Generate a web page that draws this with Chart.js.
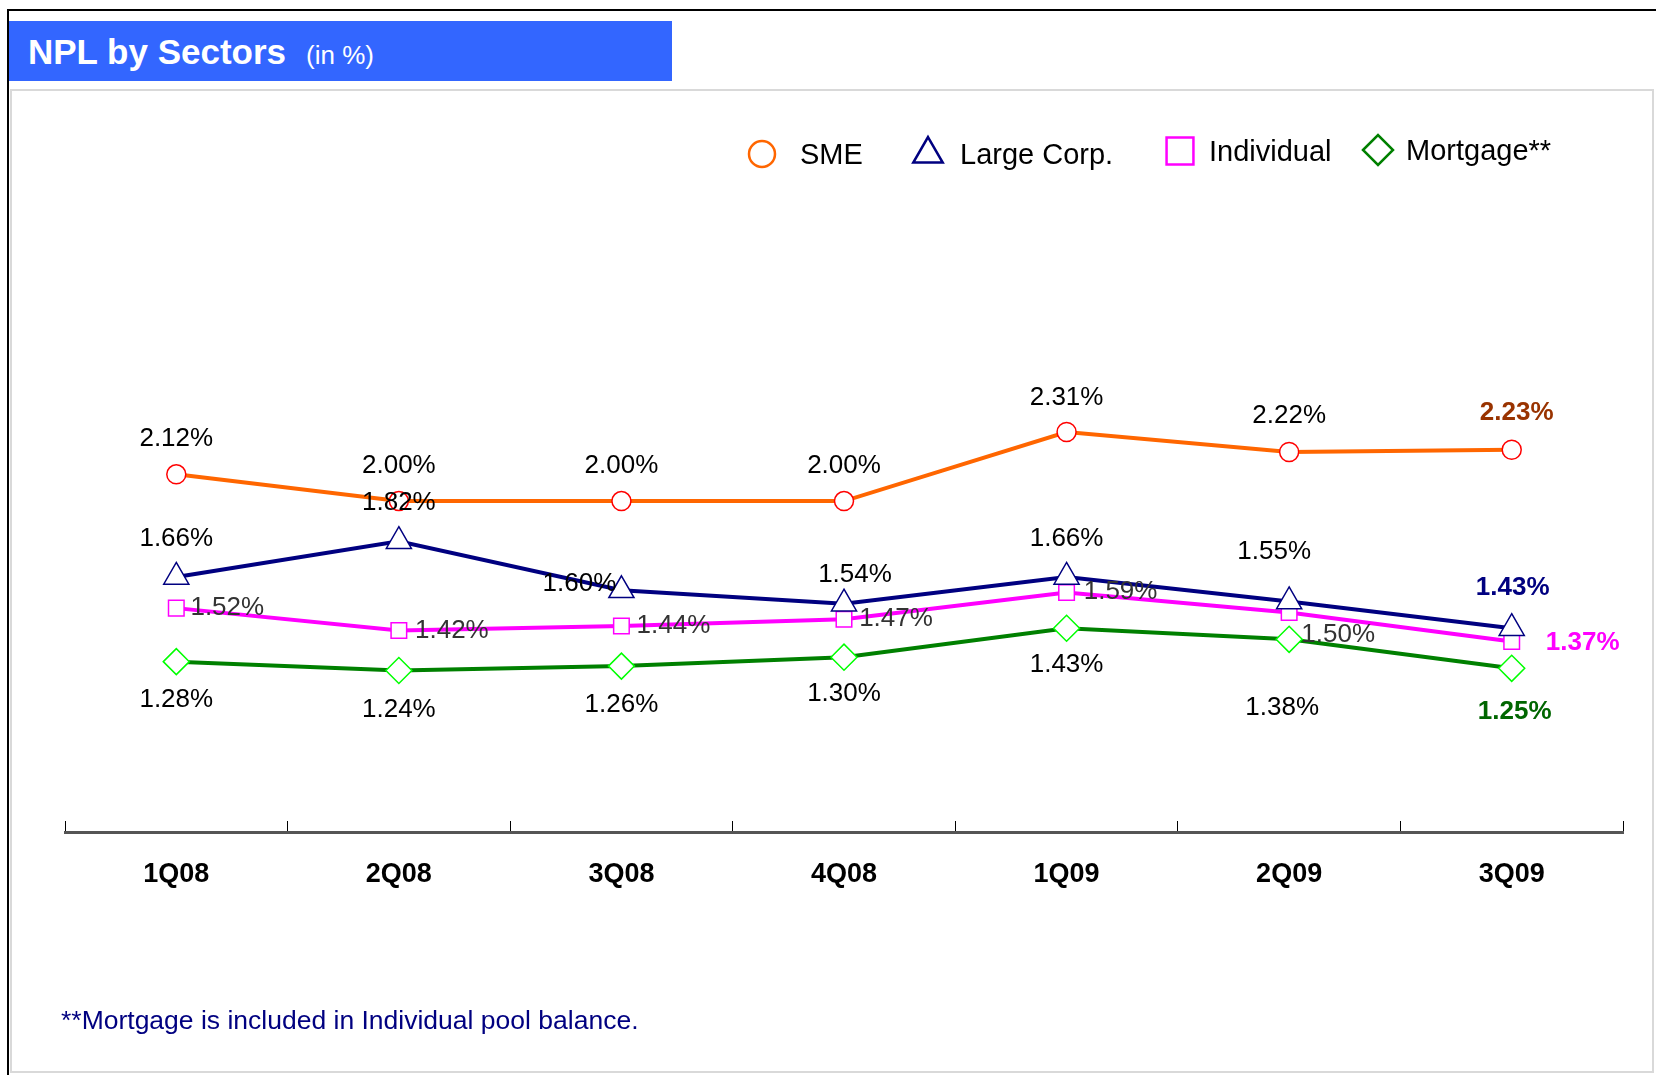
<!DOCTYPE html>
<html><head><meta charset="utf-8">
<script src="https://cdn.jsdelivr.net/npm/chart.js@4.4.0/dist/chart.umd.min.js"></script>
<style>
html,body{margin:0;padding:0;background:#fff;width:1656px;height:1075px;overflow:hidden;font-family:'Liberation Sans',Arial,sans-serif;}
#frameTop{position:absolute;left:7px;top:9px;width:1649px;height:2px;background:#000;}
#frameLeft{position:absolute;left:7px;top:9px;width:2px;height:1066px;background:#000;}
#box{position:absolute;left:10px;top:89px;width:1640px;height:980px;border:2px solid #d9d9d9;}
#titleBar{position:absolute;left:9px;top:21px;width:663px;height:60px;background:#3366FF;color:#fff;}
#titleText{position:absolute;left:19px;top:11px;white-space:nowrap;line-height:40px;}
#titleText .main{font-weight:bold;font-size:35px;}
#titleText .sub{font-size:26px;margin-left:20px;}
#note{position:absolute;left:61px;top:1004px;font-size:26.5px;line-height:32px;color:#000080;white-space:nowrap;}
#c{position:absolute;left:0;top:0;}
</style>
</head><body>
<div id="frameTop"></div>
<div id="frameLeft"></div>
<div id="box"></div>
<div id="titleBar"><div id="titleText"><span class="main">NPL by Sectors</span><span class="sub">(in %)</span></div></div>
<canvas id="c" width="1656" height="1075"></canvas>
<div id="note">**Mortgage is included in Individual pool balance.</div>
<script>
// ---- data ----
const categories = ['1Q08','2Q08','3Q08','4Q08','1Q09','2Q09','3Q09'];
const seriesNames = ['SME','Large Corp.','Individual','Mortgage**'];
const smeValues        = [2.12, 2.00, 2.00, 2.00, 2.31, 2.22, 2.23];
const largeCorpValues  = [1.66, 1.82, 1.60, 1.54, 1.66, 1.55, 1.43];
const individualValues = [1.52, 1.42, 1.44, 1.47, 1.59, 1.50, 1.37];
const mortgageValues   = [1.28, 1.24, 1.26, 1.30, 1.43, 1.38, 1.25];

// ---- label placement (offsets from each point, px) ----
const labelOffsets = [
  [[0,-36],[0,-35],[0,-35],[0,-35],[0,-34],[0,-36],[5,-37]],
  [[0,-38],[0,-38],[-42,-6],[11,-29],[0,-38],[-15,-50],[1,-40]],
  [[51,0],[53,0],[52,0],[52,0],[54,-1],[49,22],[71,1]],
  [[0,38],[0,39],[0,39],[0,37],[0,37],[-7,68],[3,43]]
];
const labelColors = ['#000000','#000000','#333333','#000000'];
const lastLabelColors = ['#993300','#000080','#FF00FF','#006600'];
const FONT = '"Liberation Sans", Arial, sans-serif';

// legend layout
const legendMarkerX = [762, 928, 1180, 1378];
const legendTextX   = [800, 960, 1209, 1406];
const legendY       = [154, 154, 151, 150];
const legendMarker = [
  {pointStyle:'circle', radius:13, color:'#FF6600'},
  {pointStyle:'triangle', radius:17, color:'#000080'},
  {pointStyle:'rect', radius:19, color:'#FF00FF'},
  {pointStyle:'rectRot', radius:15, color:'#008000'}
];

const valueLabels = {
  id:'valueLabels',
  afterDatasetsDraw(chart){
    const ctx = chart.ctx;
    chart.data.datasets.forEach((ds,i)=>{
      const meta = chart.getDatasetMeta(i);
      meta.data.forEach((pt,j)=>{
        const last = j === ds.data.length-1;
        const off = labelOffsets[i][j];
        ctx.save();
        ctx.font = (last?'bold ':'') + '26px ' + FONT;
        ctx.fillStyle = last ? lastLabelColors[i] : labelColors[i];
        ctx.textAlign='center'; ctx.textBaseline='middle';
        ctx.fillText(ds.data[j].toFixed(2)+'%', pt.x+off[0], pt.y+off[1]);
        ctx.restore();
      });
    });
  }
};

const customLegend = {
  id:'customLegend',
  afterDraw(chart){
    const ctx = chart.ctx;
    chart.data.datasets.forEach((ds,i)=>{
      const m = legendMarker[i];
      ctx.save();
      ctx.fillStyle = '#ffffff';
      ctx.strokeStyle = m.color;
      ctx.lineWidth = 2.5;
      Chart.helpers.drawPoint(ctx, {pointStyle:m.pointStyle, radius:m.radius, borderWidth:2.5, rotation:0}, legendMarkerX[i], legendY[i]);
      ctx.fillStyle = '#000';
      ctx.font = '29px ' + FONT;
      ctx.textAlign = 'left'; ctx.textBaseline = 'middle';
      ctx.fillText(ds.label, legendTextX[i], legendY[i]+2);
      ctx.restore();
    });
  }
};

new Chart(document.getElementById('c'), {
  type:'line',
  data:{
    labels: categories,
    datasets:[
      {label:seriesNames[0], data:smeValues, borderColor:'#FF6600', borderWidth:4,
       pointStyle:'circle', pointRadius:9.5, pointBorderColor:'#FF0000', pointBackgroundColor:'#ffffff', pointBorderWidth:1.5, order:1},
      {label:seriesNames[1], data:largeCorpValues, borderColor:'#000080', borderWidth:4,
       pointStyle:'triangle', pointRadius:14.5, pointBorderColor:'#000080', pointBackgroundColor:'#ffffff', pointBorderWidth:1.5, order:2},
      {label:seriesNames[2], data:individualValues, borderColor:'#FF00FF', borderWidth:4,
       pointStyle:'rect', pointRadius:11, pointBorderColor:'#FF00FF', pointBackgroundColor:'#ffffff', pointBorderWidth:1.5, order:3},
      {label:seriesNames[3], data:mortgageValues, borderColor:'#008000', borderWidth:4,
       pointStyle:'rectRot', pointRadius:13, pointBorderColor:'#00FF00', pointBackgroundColor:'#ffffff', pointBorderWidth:1.5, order:4}
    ]
  },
  options:{
    responsive:false,
    animation:false,
    devicePixelRatio:1,
    layout:{padding:{left:65, right:33, top:277, bottom:143}},
    plugins:{legend:{display:false}, tooltip:{enabled:false}, title:{display:false}},
    elements:{line:{tension:0}},
    scales:{
      x:{
        type:'category',
        offset:true,
        grid:{display:true, offset:true, drawOnChartArea:false, drawTicks:true, tickLength:-11, color:'#000', lineWidth:1},
        border:{display:true, color:'#555555', width:3},
        ticks:{font:{family:FONT, size:27, weight:'bold'}, color:'#000', padding:37, maxRotation:0},
        afterFit(scale){ scale.height = 100; }
      },
      y:{display:false, min:0.516, max:3.005}
    }
  },
  plugins:[valueLabels, customLegend]
});
</script>
</body></html>
